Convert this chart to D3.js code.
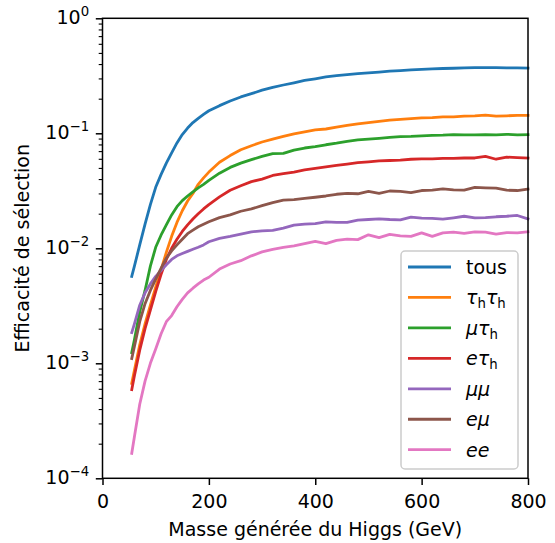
<!DOCTYPE html>
<html><head><meta charset="utf-8">
<script src="https://cdn.jsdelivr.net/npm/d3@7"></script>
<style>body{margin:0;background:#fff} text{font-family:"DejaVu Sans",sans-serif;fill:#000}</style>
</head><body><svg id="c" width="555" height="543"></svg>
<script>
// ---- data ----
const masses = [55,60,70,80,90,100,110,120,130,140,150,160,170,180,190,200,
  220,240,260,280,300,320,340,360,380,400,420,440,460,480,500,520,540,560,580,600,
  620,640,660,680,700,720,740,760,780,800];
const tous = [0.0057,0.0070,0.0107,0.0162,0.024,0.0339,0.0437,0.055,0.0676,0.0825,0.0975,0.111,0.124,0.135,0.146,0.157,
  0.174,0.191,0.207,0.221,0.237,0.251,0.263,0.275,0.288,0.298,0.309,0.318,0.324,0.330,0.335,0.341,0.347,0.351,0.356,0.360,
  0.363,0.366,0.368,0.370,0.372,0.373,0.372,0.370,0.370,0.369];
const tauhtauh = [6.7e-4,8.7e-4,1.45e-3,2.2e-3,3.2e-3,4.6e-3,6.5e-3,9.2e-3,0.0127,0.0168,0.0212,0.0258,0.030,0.036,0.041,0.046,
  0.056,0.064,0.072,0.078,0.084,0.089,0.094,0.099,0.103,0.107,0.109,0.113,0.117,0.121,0.124,0.127,0.130,0.132,0.134,0.136,
  0.137,0.139,0.139,0.141,0.142,0.144,0.141,0.142,0.143,0.143];
const mutauh = [1.24e-3,1.6e-3,2.8e-3,4.3e-3,7.0e-3,1.02e-2,1.3e-2,1.6e-2,1.95e-2,2.3e-2,2.6e-2,2.85e-2,3.1e-2,3.35e-2,3.6e-2,3.9e-2,
  4.5e-2,5.05e-2,5.5e-2,5.9e-2,6.3e-2,6.65e-2,6.7e-2,7.15e-2,7.45e-2,7.65e-2,7.95e-2,8.2e-2,8.5e-2,8.75e-2,8.9e-2,9.05e-2,9.2e-2,9.35e-2,9.4e-2,9.5e-2,
  9.6e-2,9.65e-2,9.75e-2,9.7e-2,9.7e-2,9.75e-2,9.7e-2,9.8e-2,9.7e-2,9.75e-2];
const etauh = [5.9e-4,7.8e-4,1.3e-3,2.0e-3,2.9e-3,4.2e-3,5.9e-3,8.0e-3,1.0e-2,1.2e-2,1.4e-2,1.6e-2,1.8e-2,2.0e-2,2.2e-2,2.4e-2,
  2.8e-2,3.2e-2,3.5e-2,3.8e-2,4.0e-2,4.3e-2,4.45e-2,4.6e-2,4.8e-2,4.95e-2,5.1e-2,5.25e-2,5.4e-2,5.55e-2,5.65e-2,5.75e-2,5.8e-2,5.85e-2,5.95e-2,6.0e-2,
  6.0e-2,6.05e-2,6.05e-2,6.1e-2,6.1e-2,6.3e-2,5.95e-2,6.2e-2,6.15e-2,6.1e-2];
const mumu = [1.85e-3,2.2e-3,3.2e-3,4.1e-3,4.9e-3,5.7e-3,6.4e-3,7.2e-3,8.0e-3,8.6e-3,9.0e-3,9.4e-3,9.8e-3,1.02e-2,1.07e-2,1.14e-2,
  1.22e-2,1.27e-2,1.33e-2,1.39e-2,1.42e-2,1.43e-2,1.5e-2,1.59e-2,1.62e-2,1.64e-2,1.7e-2,1.68e-2,1.68e-2,1.76e-2,1.78e-2,1.8e-2,1.78e-2,1.77e-2,1.87e-2,1.83e-2,
  1.82e-2,1.79e-2,1.84e-2,1.9e-2,1.84e-2,1.85e-2,1.88e-2,1.9e-2,1.93e-2,1.8e-2];
const emu = [1.1e-3,1.4e-3,2.3e-3,3.3e-3,4.3e-3,5.4e-3,6.7e-3,8.2e-3,9.5e-3,1.07e-2,1.2e-2,1.34e-2,1.44e-2,1.54e-2,1.62e-2,1.7e-2,
  1.85e-2,1.95e-2,2.1e-2,2.2e-2,2.35e-2,2.5e-2,2.62e-2,2.65e-2,2.72e-2,2.78e-2,2.85e-2,2.95e-2,3.0e-2,2.98e-2,3.12e-2,3.0e-2,3.15e-2,3.12e-2,3.05e-2,3.18e-2,
  3.2e-2,3.28e-2,3.22e-2,3.2e-2,3.38e-2,3.35e-2,3.33e-2,3.2e-2,3.18e-2,3.28e-2];
const ee = [1.65e-4,2.3e-4,4.4e-4,7.0e-4,1.0e-3,1.33e-3,1.8e-3,2.3e-3,2.6e-3,3.1e-3,3.6e-3,4.1e-3,4.5e-3,4.9e-3,5.3e-3,5.6e-3,
  6.6e-3,7.3e-3,7.8e-3,8.6e-3,9.3e-3,9.8e-3,1.02e-2,1.05e-2,1.1e-2,1.15e-2,1.1e-2,1.17e-2,1.2e-2,1.19e-2,1.31e-2,1.24e-2,1.32e-2,1.28e-2,1.27e-2,1.36e-2,
  1.27e-2,1.36e-2,1.38e-2,1.35e-2,1.39e-2,1.38e-2,1.33e-2,1.37e-2,1.36e-2,1.39e-2];
const seriesValues = [tous, tauhtauh, mutauh, etauh, mumu, emu, ee];
const seriesColors = ["#1f77b4","#ff7f0e","#2ca02c","#d62728","#9467bd","#8c564b","#e377c2"];
// legend labels: segments [text, style] (n = normal, i = italic, s = subscript upright)
const seriesLabels = [
  [["tous","n"]],
  [["τ","i"],["h","s"],["τ","i"],["h","s"]],
  [["μ","i"],["τ","i"],["h","s"]],
  [["e","i"],["τ","i"],["h","s"]],
  [["μ","i"],["μ","i"]],
  [["e","i"],["μ","i"]],
  [["e","i"],["e","i"]]
];
const xTicks = [0,200,400,600,800];
const yExponents = [-4,-3,-2,-1,0];
const xLabel = "Masse générée du Higgs (GeV)";
const yLabel = "Efficacité de sélection";

// ---- layout ----
const L = 102.5, R = 528, T = 18.3, B = 478.3;
const FS = 19;
const svg = d3.select("#c");
const x = d3.scaleLinear().domain([0,800]).range([L,R]);
const y = d3.scaleLog().domain([1e-4,1]).range([B,T]);

// lines
const line = d3.line().x((d,i)=>x(masses[i])).y(d=>y(d));
svg.append("g").selectAll("path").data(seriesValues).join("path")
  .attr("d", d=>line(d)).attr("fill","none")
  .attr("stroke",(d,i)=>seriesColors[i]).attr("stroke-width",2.8)
  .attr("stroke-linejoin","round").attr("stroke-linecap","square");

// x axis
const gx = svg.append("g").attr("transform",`translate(0,${B})`)
  .call(d3.axisBottom(x).tickValues(xTicks).tickFormat(d3.format("d")).tickSize(6.7).tickPadding(9.3));
gx.select(".domain").remove();
gx.selectAll(".tick line").attr("stroke","#000").attr("stroke-width",1.5);
gx.selectAll(".tick text").attr("font-size",FS).attr("font-family","DejaVu Sans");

// y axis minor ticks
const minor = [];
yExponents.slice(0,-1).forEach(e=>{ for(let k=2;k<=9;k++) minor.push(k*Math.pow(10,e)); });
const gym = svg.append("g").attr("transform",`translate(${L},0)`)
  .call(d3.axisLeft(y).tickValues(minor).tickFormat("").tickSize(3.8));
gym.select(".domain").remove();
gym.selectAll(".tick line").attr("stroke","#000").attr("stroke-width",1.1);
// y axis major ticks
const majors = yExponents.map(e=>Math.pow(10,e));
const gy = svg.append("g").attr("transform",`translate(${L},0)`)
  .call(d3.axisLeft(y).tickValues(majors).tickFormat("").tickSize(6.7));
gy.select(".domain").remove();
gy.selectAll(".tick line").attr("stroke","#000").attr("stroke-width",1.5);
gy.selectAll(".tick").each(function(d,i){
  const t = d3.select(this).append("text").attr("x",-13.4).attr("y",5.5)
    .attr("text-anchor","end").attr("font-size",FS);
  t.append("tspan").text("10");
  const ex = yExponents[i];
  t.append("tspan").attr("font-size",FS*0.7).attr("dy",-8.5)
    .text(ex<0 ? "\u2212"+Math.abs(ex) : String(ex));
});

// frame
svg.append("rect").attr("x",L).attr("y",T).attr("width",R-L).attr("height",B-T)
  .attr("fill","none").attr("stroke","#000").attr("stroke-width",1.5);

// axis labels
svg.append("text").attr("x",(L+R)/2).attr("y",535.5).attr("text-anchor","middle")
  .attr("font-size",FS).text(xLabel);
svg.append("text").attr("transform",`translate(28.5,${(T+B)/2}) rotate(-90)`)
  .attr("text-anchor","middle").attr("font-size",FS).text(yLabel);

// legend
const lg = svg.append("g");
lg.append("rect").attr("x",401).attr("y",251).attr("width",117).attr("height",218)
  .attr("rx",4).attr("fill","#fff").attr("fill-opacity",0.8)
  .attr("stroke","#cccccc").attr("stroke-width",1.5);
seriesLabels.forEach((lab,i)=>{
  const cy = 267 + i*30.45;
  lg.append("line").attr("x1",408).attr("x2",451).attr("y1",cy).attr("y2",cy)
    .attr("stroke",seriesColors[i]).attr("stroke-width",2.8);
  const t = lg.append("text").attr("x",466).attr("y",cy+7).attr("font-size",FS);
  let off = 0;
  lab.forEach(([s,st])=>{
    const sp = t.append("tspan").text(s);
    if (st==="s") { sp.attr("font-size",FS*0.7).attr("dy",4-off); off = 4; }
    else {
      if (off!==0) { sp.attr("dy",-off); off = 0; }
      if (st==="i") sp.attr("font-style","italic");
    }
  });
});
</script></body></html>
